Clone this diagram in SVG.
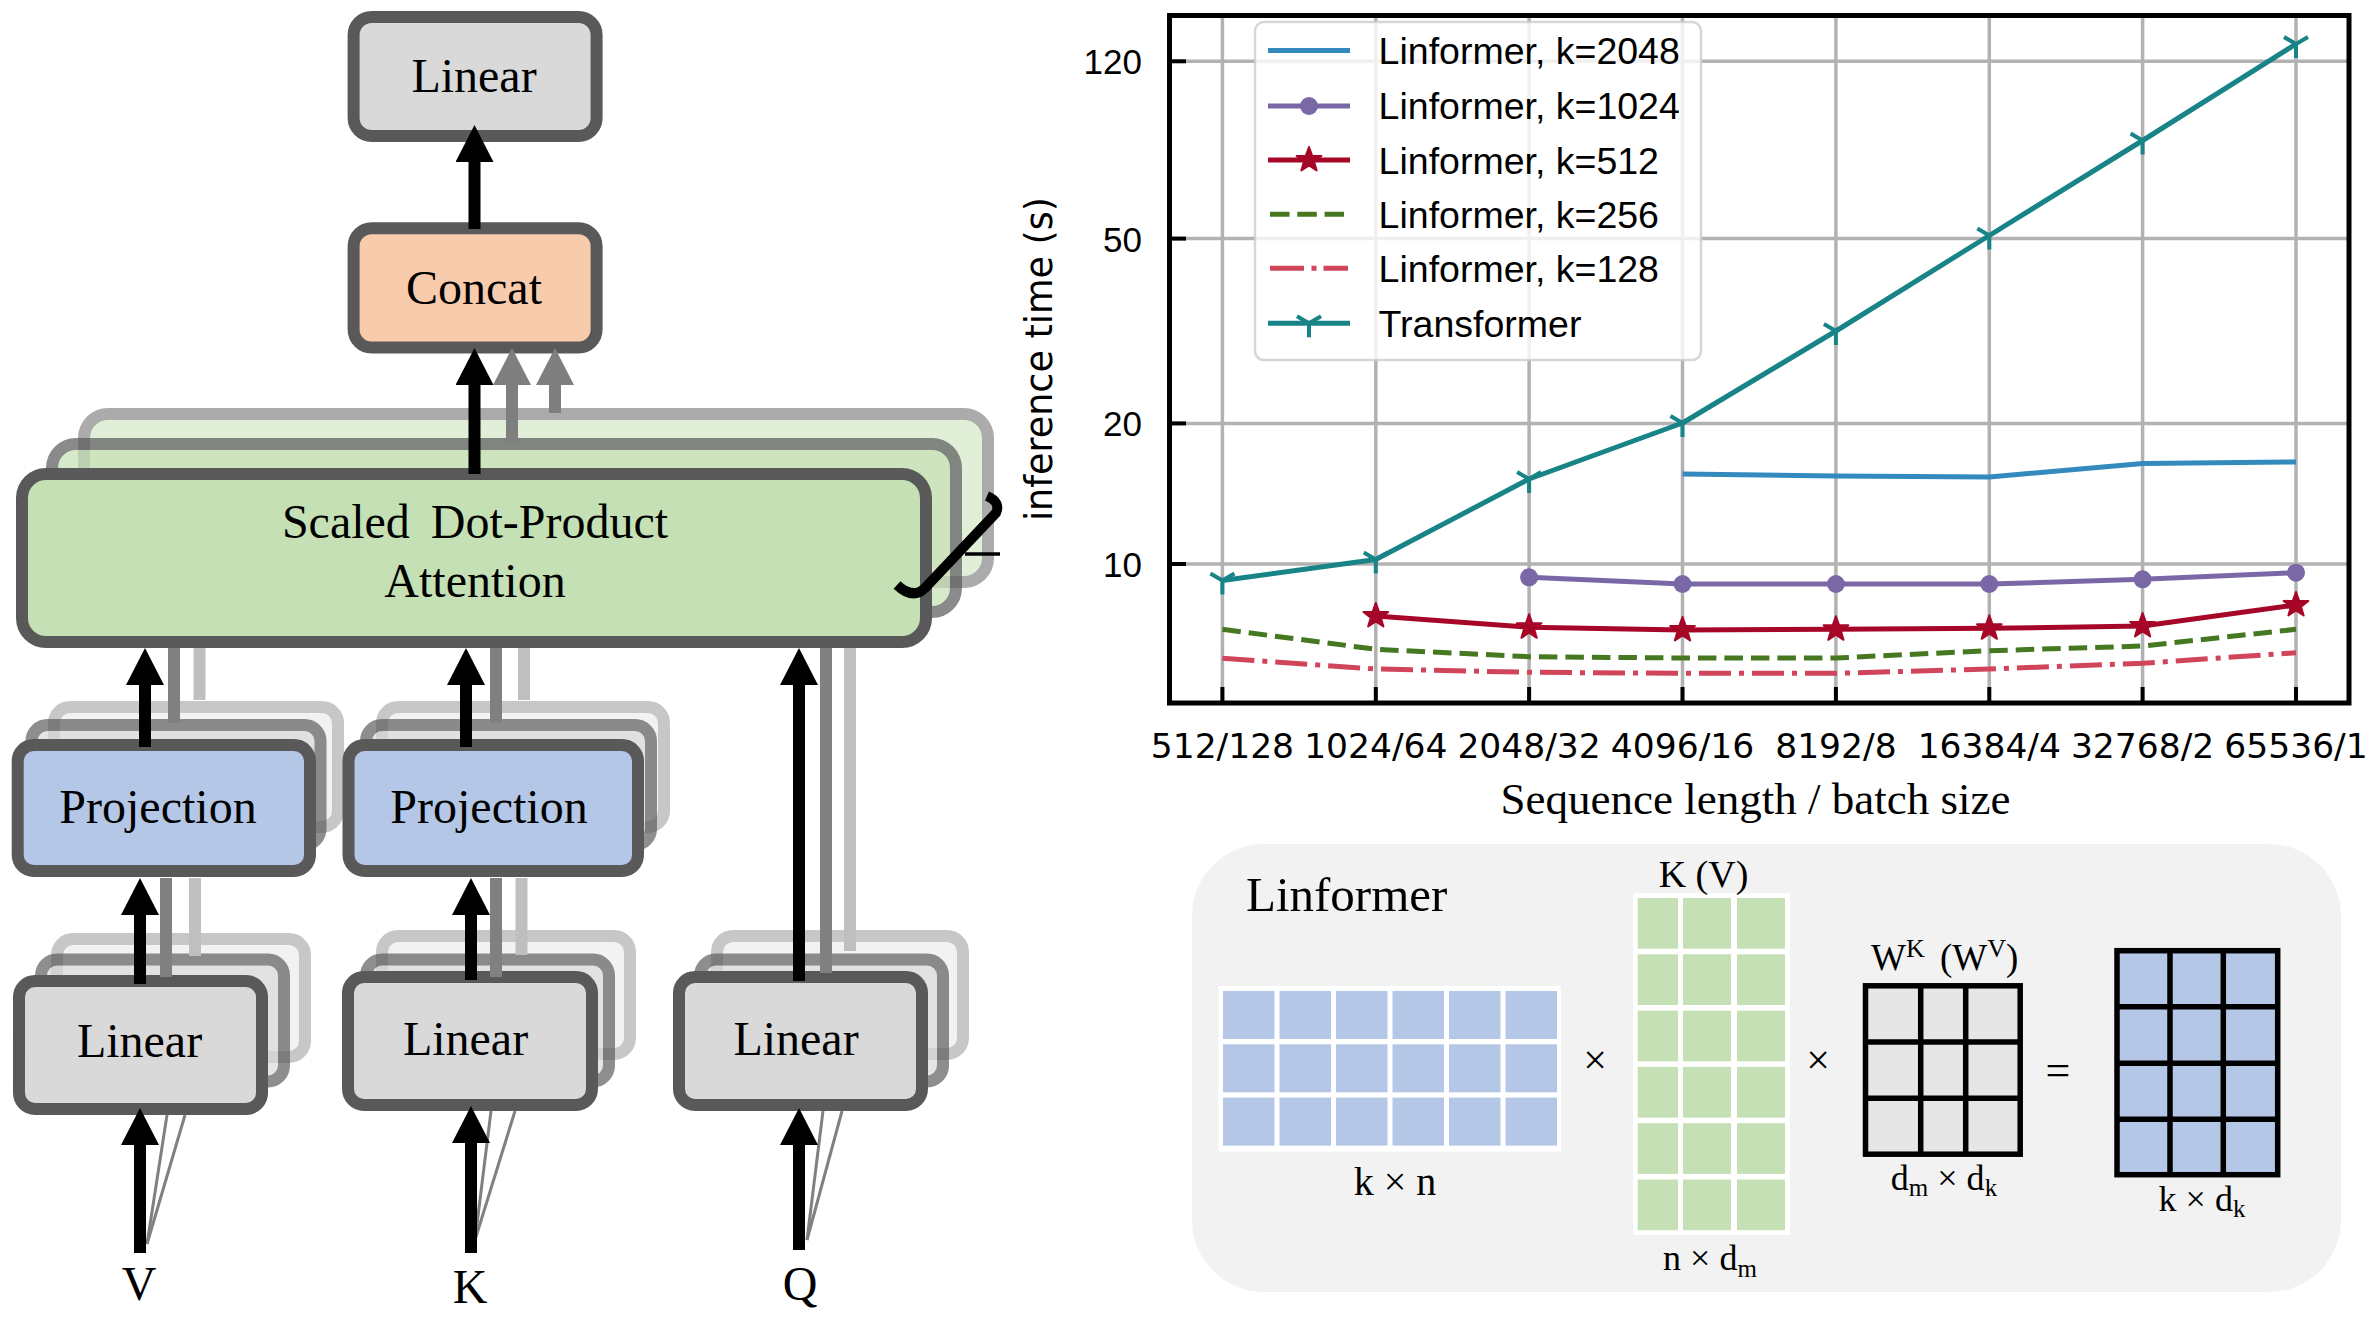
<svg xmlns="http://www.w3.org/2000/svg" width="2371" height="1325" viewBox="0 0 2371 1325">
<style>
.box{stroke:#595959;stroke-width:12}
.lin{fill:#d9d9d9}.proj{fill:#b4c7e7}.att{fill:#c5e0b4}.cat{fill:#f8cbad}
.mid{opacity:.68}.back{opacity:.33}
.amid{opacity:.7}.aback{opacity:.5}
.lbl{font-family:"Liberation Serif","Times New Roman",serif;font-size:48px;text-anchor:middle;fill:#000}
.arr{stroke:#000;stroke-width:12;fill:none;marker-end:url(#ah)}
.garr{stroke:#7f7f7f;stroke-width:12;fill:none;marker-end:url(#ahg)}
.g1{stroke:#808080;stroke-width:12}.g2{stroke:#bfbfbf;stroke-width:12}
.fan{stroke:#808080;stroke-width:3}
.grid{stroke:#b2b2b2;stroke-width:3.5}
.tick{stroke:#000;stroke-width:4}
.ytl{font-family:"Liberation Sans",Arial,sans-serif;font-size:35px;text-anchor:end}
.xtl{font-family:"DejaVu Sans",sans-serif;font-size:34.5px;text-anchor:middle}
.leg{font-family:"Liberation Sans",Arial,sans-serif;font-size:37.5px}
.ser{fill:none;stroke-width:5;stroke-linejoin:round}
.mt{font-family:"Liberation Serif","Times New Roman",serif;fill:#000}
.wc{fill:#fff}
</style>
<defs>
<marker id="ah" viewBox="0 0 37 38" refX="1" refY="19" markerWidth="37" markerHeight="38" markerUnits="userSpaceOnUse" orient="auto"><path d="M0,0 L37,19 L0,38 Z" fill="#000"/></marker>
<marker id="ahs" viewBox="0 0 25 38" refX="1" refY="19" markerWidth="25" markerHeight="38" markerUnits="userSpaceOnUse" orient="auto"><path d="M0,0 L25,19 L0,38 Z" fill="#000"/></marker>
<marker id="ahg" viewBox="0 0 37 38" refX="1" refY="19" markerWidth="37" markerHeight="38" markerUnits="userSpaceOnUse" orient="auto"><path d="M0,0 L37,19 L0,38 Z" fill="#7f7f7f"/></marker>
<path id="star" d="M0,-13 L3.12,-4.29 L12.36,-4.02 L5.04,1.64 L7.64,10.52 L0,5.3 L-7.64,10.52 L-5.04,1.64 L-12.36,-4.02 L-3.12,-4.29 Z" fill="#a60628" stroke="#a60628" stroke-width="2" stroke-linejoin="round"/>
<circle id="dot" r="9" fill="#7a68a6"/>
<path id="tri" d="M0,0 V14 M0,0 L-12,-7 M0,0 L12,-7" stroke="#188487" stroke-width="4" fill="none"/>
</defs>
<rect width="2371" height="1325" fill="#fff"/>

<!-- ============ LEFT: multi-head attention ============ -->
<g id="node-linear-out"><rect class="box lin" x="353.6" y="17" width="243" height="119" rx="18"/><text class="lbl" x="474" y="92">Linear</text></g>
<g id="node-concat"><rect class="box cat" x="353.6" y="228.3" width="243" height="119.3" rx="18"/><text class="lbl" x="474" y="303.5">Concat</text></g>
<g id="node-attention">
<rect class="box att aback" x="84" y="414" width="904" height="168" rx="24"/>
<rect class="box att amid" x="52" y="444" width="904" height="168" rx="24"/>
<rect class="box att" x="22" y="474" width="904" height="168" rx="24"/>
<text class="lbl" x="475" y="538" font-size="49" word-spacing="9">Scaled Dot-Product</text>
<text class="lbl" x="475" y="597" font-size="49">Attention</text>
<path d="M987,496 Q1001,502 996,513 L925,588 Q913,600 897,585" stroke="#000" stroke-width="10" fill="none"/>
<path d="M965,554 H1000" stroke="#000" stroke-width="3.5"/>
</g>
<g id="node-proj-v">
<rect class="box lin back" x="54" y="707" width="284" height="120" rx="16"/>
<rect class="box lin mid" x="31.5" y="725" width="289" height="120" rx="16"/>
<rect class="box proj" x="17.7" y="745" width="292.3" height="126" rx="16"/>
<text class="lbl" x="158" y="822.5">Projection</text>
</g>
<g id="node-proj-k">
<rect class="box lin back" x="382" y="707" width="282" height="120" rx="16"/>
<rect class="box lin mid" x="366" y="725" width="285" height="120" rx="16"/>
<rect class="box proj" x="348.5" y="745" width="289.5" height="126" rx="16"/>
<text class="lbl" x="489" y="822.5">Projection</text>
</g>
<g id="node-linear-v">
<rect class="box lin back" x="57" y="939" width="248" height="118" rx="16"/>
<rect class="box lin mid" x="41" y="959.5" width="243" height="122" rx="16"/>
<rect class="box lin" x="19" y="981" width="243" height="128" rx="16"/>
<text class="lbl" x="139.5" y="1057">Linear</text>
</g>
<g id="node-linear-k">
<rect class="box lin back" x="382" y="936" width="248" height="118" rx="16"/>
<rect class="box lin mid" x="366" y="959.5" width="243" height="122" rx="16"/>
<rect class="box lin" x="348" y="977" width="244" height="128" rx="16"/>
<text class="lbl" x="465.5" y="1054.5">Linear</text>
</g>
<g id="node-linear-q">
<rect class="box lin back" x="717" y="936" width="246" height="118" rx="16"/>
<rect class="box lin mid" x="700" y="959.5" width="243" height="122" rx="16"/>
<rect class="box lin" x="679" y="977" width="243" height="128" rx="16"/>
<text class="lbl" x="796" y="1054.5">Linear</text>
</g>
<g id="node-v"><text class="lbl" x="139" y="1300">V</text></g>
<g id="node-k"><text class="lbl" x="470" y="1303">K</text></g>
<g id="node-q"><text class="lbl" x="800" y="1300">Q</text></g>

<g id="connectors">
<line class="g1" x1="174" y1="723" x2="174" y2="648"/><line class="g2" x1="199.5" y1="700" x2="199.5" y2="648"/>
<line class="g1" x1="496" y1="723" x2="496" y2="648"/><line class="g2" x1="524" y1="700" x2="524" y2="648"/>
<line class="g1" x1="826" y1="973" x2="826" y2="648"/><line class="g2" x1="850" y1="951" x2="850" y2="648"/>
<line class="g1" x1="166" y1="977" x2="166" y2="878"/><line class="g2" x1="195" y1="956" x2="195" y2="878"/>
<line class="g1" x1="496" y1="977" x2="496" y2="878"/><line class="g2" x1="521.5" y1="955" x2="521.5" y2="878"/>
<line class="fan" x1="147" y1="1244" x2="167" y2="1115"/><line class="fan" x1="147" y1="1244" x2="185" y2="1115"/>
<line class="fan" x1="475" y1="1240" x2="491" y2="1111"/><line class="fan" x1="475" y1="1240" x2="515" y2="1111"/>
<line class="fan" x1="807" y1="1240" x2="823" y2="1111"/><line class="fan" x1="807" y1="1240" x2="842" y2="1111"/>
<path class="arr" d="M474.5,229 V161" marker-end="url(#ahs)"/>
<path class="arr" d="M474.5,474 V384"/>
<path class="garr" d="M512,442 V384"/>
<path class="garr" d="M555,413 V384"/>
<path class="arr" d="M140,1253 V1144"/>
<path class="arr" d="M140,984 V914"/>
<path class="arr" d="M145,747 V684"/>
<path class="arr" d="M471,1253 V1142"/>
<path class="arr" d="M471,980 V914"/>
<path class="arr" d="M466,747 V684"/>
<path class="arr" d="M799,1250 V1144"/>
<path class="arr" d="M799,981 V684"/>
</g>

<!-- ============ RIGHT TOP: plot ============ -->
<g id="plot">
<g id="grid">
<line class="grid" x1="1170" y1="61.3" x2="2349" y2="61.3"/>
<line class="grid" x1="1170" y1="238.6" x2="2349" y2="238.6"/>
<line class="grid" x1="1170" y1="423.4" x2="2349" y2="423.4"/>
<line class="grid" x1="1170" y1="564" x2="2349" y2="564"/>
<line class="grid" x1="1222.4" y1="16" x2="1222.4" y2="703"/>
<line class="grid" x1="1375.8" y1="16" x2="1375.8" y2="703"/>
<line class="grid" x1="1529.1" y1="16" x2="1529.1" y2="703"/>
<line class="grid" x1="1682.5" y1="16" x2="1682.5" y2="703"/>
<line class="grid" x1="1835.9" y1="16" x2="1835.9" y2="703"/>
<line class="grid" x1="1989.3" y1="16" x2="1989.3" y2="703"/>
<line class="grid" x1="2142.6" y1="16" x2="2142.6" y2="703"/>
<line class="grid" x1="2296" y1="16" x2="2296" y2="703"/>
</g>
<g id="series">
<polyline class="ser" stroke="#d0455a" stroke-dasharray="32 8 5 8" points="1222.4,658.3 1375.8,669 1529.1,672.3 1682.5,673.3 1835.9,673.3 1989.3,669 2142.6,663.3 2296,652.7"/>
<polyline class="ser" stroke="#467821" stroke-dasharray="18.5 8" points="1222.4,629.3 1375.8,649.3 1529.1,656.7 1682.5,658 1835.9,658 1989.3,650.7 2142.6,646 2296,629.3"/>
<polyline class="ser" stroke="#a60628" points="1375.8,616 1529.1,627.3 1682.5,630 1835.9,629.3 1989.3,628.3 2142.6,626 2296,605"/>
<use href="#star" x="1375.8" y="616"/><use href="#star" x="1529.1" y="627.3"/><use href="#star" x="1682.5" y="630"/><use href="#star" x="1835.9" y="629.3"/><use href="#star" x="1989.3" y="628.3"/><use href="#star" x="2142.6" y="626"/><use href="#star" x="2296" y="605"/>
<polyline class="ser" stroke="#7a68a6" points="1529.1,577.3 1682.5,584 1835.9,584 1989.3,584 2142.6,579.3 2296,572.7"/>
<use href="#dot" x="1529.1" y="577.3"/><use href="#dot" x="1682.5" y="584"/><use href="#dot" x="1835.9" y="584"/><use href="#dot" x="1989.3" y="584"/><use href="#dot" x="2142.6" y="579.3"/><use href="#dot" x="2296" y="572.7"/>
<polyline class="ser" stroke="#348abd" points="1682.5,474 1835.9,476 1989.3,477 2142.6,463.5 2296,462"/>
<polyline class="ser" stroke="#188487" points="1222.4,580.5 1375.8,559.5 1529.1,479 1682.5,423 1835.9,331 1989.3,235.5 2142.6,140.5 2296,44"/>
<use href="#tri" x="1222.4" y="580.5"/><use href="#tri" x="1375.8" y="559.5"/><use href="#tri" x="1529.1" y="479"/><use href="#tri" x="1682.5" y="423"/><use href="#tri" x="1835.9" y="331"/><use href="#tri" x="1989.3" y="235.5"/><use href="#tri" x="2142.6" y="140.5"/><use href="#tri" x="2296" y="44"/>
</g>
<g id="ticks">
<line class="tick" x1="1170" y1="61.3" x2="1186" y2="61.3"/>
<line class="tick" x1="1170" y1="238.6" x2="1186" y2="238.6"/>
<line class="tick" x1="1170" y1="423.4" x2="1186" y2="423.4"/>
<line class="tick" x1="1170" y1="564" x2="1186" y2="564"/>
<line class="tick" x1="1222.4" y1="703" x2="1222.4" y2="687"/>
<line class="tick" x1="1375.8" y1="703" x2="1375.8" y2="687"/>
<line class="tick" x1="1529.1" y1="703" x2="1529.1" y2="687"/>
<line class="tick" x1="1682.5" y1="703" x2="1682.5" y2="687"/>
<line class="tick" x1="1835.9" y1="703" x2="1835.9" y2="687"/>
<line class="tick" x1="1989.3" y1="703" x2="1989.3" y2="687"/>
<line class="tick" x1="2142.6" y1="703" x2="2142.6" y2="687"/>
<line class="tick" x1="2296" y1="703" x2="2296" y2="687"/>
</g>
<rect x="1169.5" y="15.5" width="1179.5" height="687.5" fill="none" stroke="#000" stroke-width="5"/>
<text class="ytl" x="1142" y="74">120</text>
<text class="ytl" x="1142" y="251.5">50</text>
<text class="ytl" x="1142" y="436">20</text>
<text class="ytl" x="1142" y="577">10</text>
<text class="xtl" x="1222.4" y="758">512/128</text>
<text class="xtl" x="1375.8" y="758">1024/64</text>
<text class="xtl" x="1529.1" y="758">2048/32</text>
<text class="xtl" x="1682.5" y="758">4096/16</text>
<text class="xtl" x="1835.9" y="758">8192/8</text>
<text class="xtl" x="1989.3" y="758">16384/4</text>
<text class="xtl" x="2142.6" y="758">32768/2</text>
<text class="xtl" x="2296" y="758">65536/1</text>
<text font-family="DejaVu Sans, sans-serif" font-size="36.5" text-anchor="middle" transform="translate(1052,359) rotate(-90)">inference time (s)</text>
<text class="mt" font-size="45" text-anchor="middle" x="1755.5" y="814">Sequence length / batch size</text>
<g id="legend">
<rect x="1255" y="22" width="446" height="338" rx="9" fill="#fff" fill-opacity="0.8" stroke="#cccccc" stroke-opacity="0.8" stroke-width="2.5"/>
<line x1="1268" y1="50.5" x2="1350" y2="50.5" stroke="#348abd" stroke-width="5"/>
<line x1="1268" y1="106" x2="1350" y2="106" stroke="#7a68a6" stroke-width="5"/><use href="#dot" x="1309" y="106"/>
<line x1="1268" y1="160" x2="1350" y2="160" stroke="#a60628" stroke-width="5"/><use href="#star" x="1309" y="160"/>
<line x1="1270" y1="214.3" x2="1344" y2="214.3" stroke="#467821" stroke-width="5" stroke-dasharray="19.5 7.8"/>
<line x1="1270" y1="268.3" x2="1348" y2="268.3" stroke="#d0455a" stroke-width="5" stroke-dasharray="34 7.5 5 7"/>
<line x1="1268" y1="323.3" x2="1350" y2="323.3" stroke="#188487" stroke-width="5"/><use href="#tri" x="1309" y="323.3"/>
<text class="leg" x="1378.6" y="64.3">Linformer, k=2048</text>
<text class="leg" x="1378.6" y="119.3">Linformer, k=1024</text>
<text class="leg" x="1378.6" y="174">Linformer, k=512</text>
<text class="leg" x="1378.6" y="228">Linformer, k=256</text>
<text class="leg" x="1378.6" y="282">Linformer, k=128</text>
<text class="leg" x="1378.6" y="337">Transformer</text>
</g>
</g>

<!-- ============ RIGHT BOTTOM: Linformer panel ============ -->
<g id="linformer-panel">
<rect x="1192" y="844" width="1149" height="448" rx="72" fill="#f2f2f2"/>
<text class="mt" font-size="49" x="1246" y="911">Linformer</text>
<g id="mat-kn">
<rect class="wc" x="1218.3" y="986" width="342.7" height="165.7"/>
<g fill="#b4c7e7">
<rect x="1223" y="991" width="51.5" height="48"/><rect x="1279.5" y="991" width="51.5" height="48"/><rect x="1336" y="991" width="51.5" height="48"/><rect x="1392.5" y="991" width="51.5" height="48"/><rect x="1449" y="991" width="51.5" height="48"/><rect x="1505.5" y="991" width="51.5" height="48"/>
<rect x="1223" y="1044.3" width="51.5" height="48"/><rect x="1279.5" y="1044.3" width="51.5" height="48"/><rect x="1336" y="1044.3" width="51.5" height="48"/><rect x="1392.5" y="1044.3" width="51.5" height="48"/><rect x="1449" y="1044.3" width="51.5" height="48"/><rect x="1505.5" y="1044.3" width="51.5" height="48"/>
<rect x="1223" y="1097.6" width="51.5" height="48"/><rect x="1279.5" y="1097.6" width="51.5" height="48"/><rect x="1336" y="1097.6" width="51.5" height="48"/><rect x="1392.5" y="1097.6" width="51.5" height="48"/><rect x="1449" y="1097.6" width="51.5" height="48"/><rect x="1505.5" y="1097.6" width="51.5" height="48"/>
</g>
<text class="mt" font-size="40" text-anchor="middle" x="1395" y="1195">k × n</text>
</g>
<text class="mt" font-size="42" text-anchor="middle" x="1595" y="1074">×</text>
<g id="mat-kv">
<rect class="wc" x="1633.3" y="893.3" width="156.7" height="341.7"/>
<g fill="#c5e0b4">
<rect x="1637.7" y="898" width="40.3" height="50.7"/><rect x="1683" y="898" width="48" height="50.7"/><rect x="1737" y="898" width="48" height="50.7"/>
<rect x="1637.7" y="954.3" width="40.3" height="50.7"/><rect x="1683" y="954.3" width="48" height="50.7"/><rect x="1737" y="954.3" width="48" height="50.7"/>
<rect x="1637.7" y="1010.6" width="40.3" height="50.7"/><rect x="1683" y="1010.6" width="48" height="50.7"/><rect x="1737" y="1010.6" width="48" height="50.7"/>
<rect x="1637.7" y="1066.9" width="40.3" height="50.7"/><rect x="1683" y="1066.9" width="48" height="50.7"/><rect x="1737" y="1066.9" width="48" height="50.7"/>
<rect x="1637.7" y="1123.2" width="40.3" height="50.7"/><rect x="1683" y="1123.2" width="48" height="50.7"/><rect x="1737" y="1123.2" width="48" height="50.7"/>
<rect x="1637.7" y="1179.5" width="40.3" height="50.7"/><rect x="1683" y="1179.5" width="48" height="50.7"/><rect x="1737" y="1179.5" width="48" height="50.7"/>
</g>
<text class="mt" font-size="38" text-anchor="middle" x="1703.5" y="886.7">K (V)</text>
<text class="mt" font-size="36" text-anchor="middle" x="1710" y="1270">n × d<tspan font-size="25" dy="7">m</tspan></text>
</g>
<text class="mt" font-size="42" text-anchor="middle" x="1818" y="1074">×</text>
<g id="mat-w">
<rect x="1865.5" y="985.8" width="154.7" height="168.4" fill="#e6e6e6" stroke="#000" stroke-width="5.5"/>
<path d="M1920.7,986 V1154 M1965.7,986 V1154 M1866,1042 H2020 M1866,1098.3 H2020" stroke="#000" stroke-width="5.5"/>
<text class="mt" font-size="37" x="1871" y="970" xml:space="preserve">W<tspan font-size="26" dy="-13">K</tspan><tspan dy="13" dx="6"> (W</tspan><tspan font-size="26" dy="-13">V</tspan><tspan dy="13">)</tspan></text>
<text class="mt" font-size="36" text-anchor="middle" x="1944" y="1190">d<tspan font-size="25" dy="6">m</tspan><tspan dy="-6" xml:space="preserve"> × d</tspan><tspan font-size="25" dy="6">k</tspan></text>
</g>
<text class="mt" font-size="44" text-anchor="middle" x="2058" y="1085">=</text>
<g id="mat-out">
<rect x="2117" y="950.7" width="160.7" height="224" fill="#b4c7e7" stroke="#000" stroke-width="5.5"/>
<path d="M2170,951 V1175 M2223.3,951 V1175 M2117,1006.7 H2278 M2117,1063.3 H2278 M2117,1119.3 H2278" stroke="#000" stroke-width="5.5"/>
<text class="mt" font-size="36" text-anchor="middle" x="2202" y="1211">k × d<tspan font-size="25" dy="6">k</tspan></text>
</g>
</g>
</svg>
